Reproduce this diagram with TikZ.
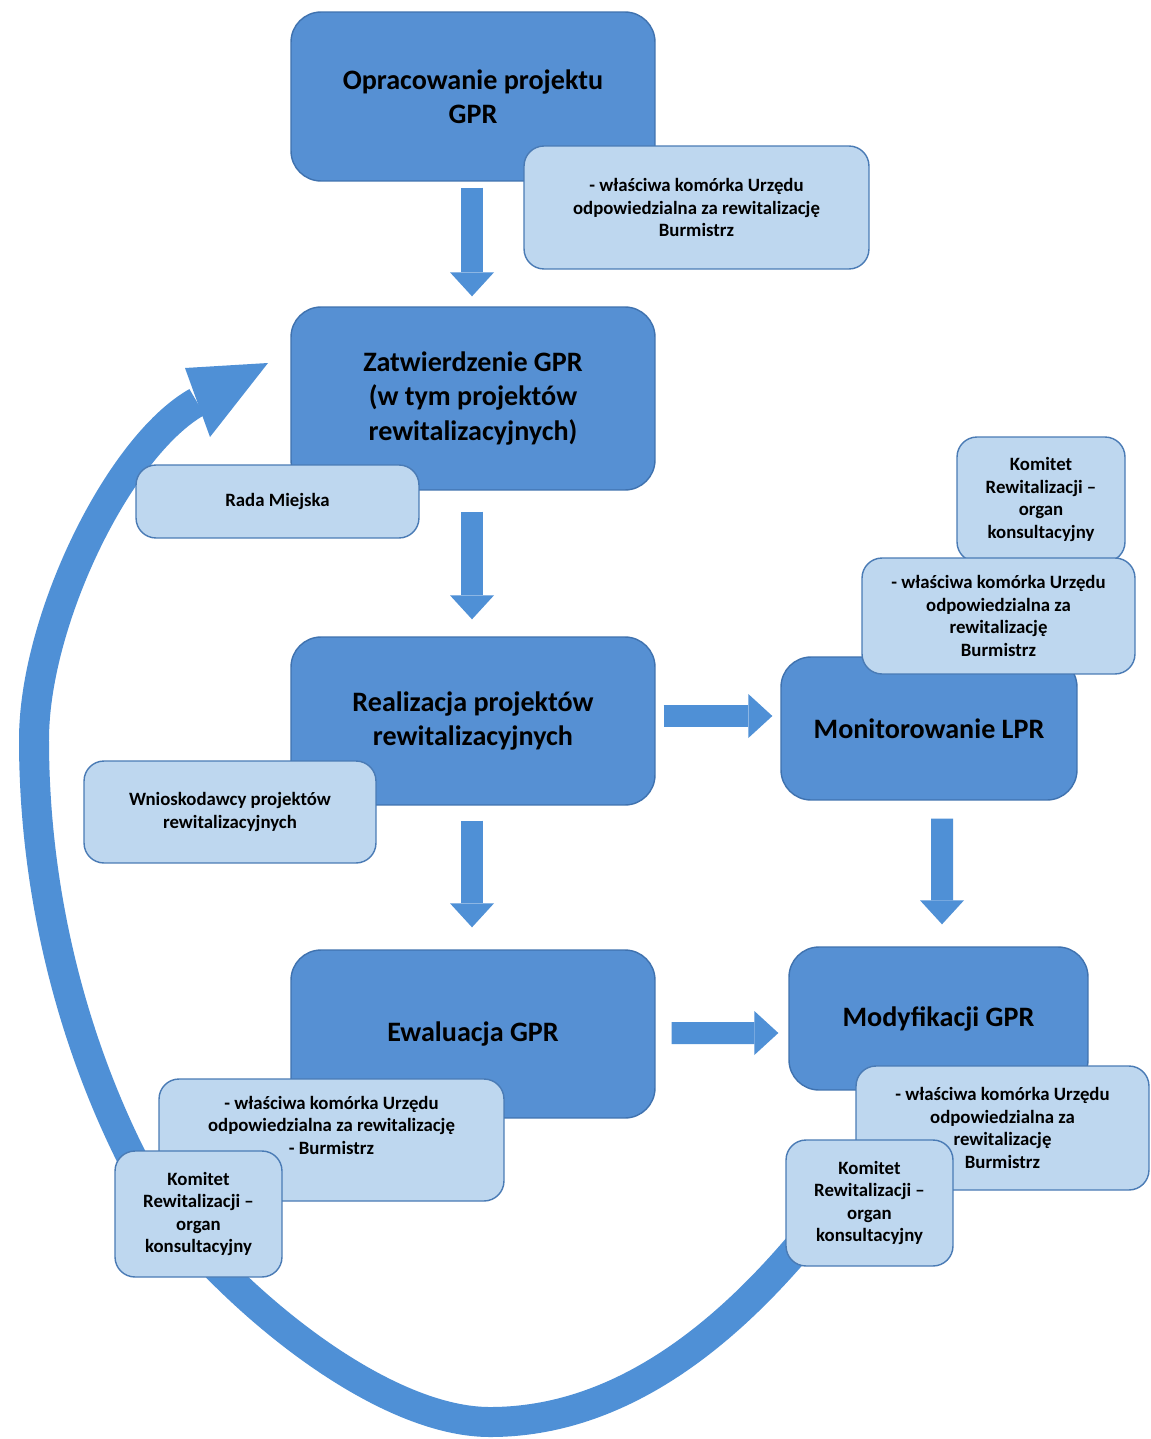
\documentclass[tikz,border=0pt]{standalone}
\usepackage{fontspec}
\setmainfont{Carlito}
\usetikzlibrary{arrows.meta,calc}
\definecolor{dkfill}{HTML}{5690D3}
\definecolor{dkedge}{HTML}{3F72AF}
\definecolor{ltfill}{HTML}{BED7EF}
\definecolor{ltedge}{HTML}{4A7BB5}
\definecolor{arrfill}{HTML}{4F90D6}
\tikzset{
  darkbox/.style={draw=dkedge, fill=dkfill, line width=0.8pt, rounded corners=0.6cm,
    inner sep=0pt, align=center, text=black,
    font=\fontsize{16}{19.5}\selectfont\bfseries},
  lightbox/.style={draw=ltedge, fill=ltfill, line width=0.8pt, rounded corners=0.4cm,
    inner sep=0pt, align=center, text=black,
    font=\fontsize{10.7}{12.8}\selectfont\bfseries},
  blockarr/.style={arrfill, line width=0.44cm,
    -{Triangle[length=0.48cm, width=0.88cm, line width=0pt]}},
  loopband/.style={arrfill, line width=0.6cm},
}
\begin{document}
\begin{tikzpicture}[x=0.02cm, y=-0.02cm]
\useasboundingbox (0,0) rectangle (1150,1439);
\fill[white] (0,0) rectangle (1150,1439);

% big return arrow (behind boxes)
\coordinate (cstart) at (822,1218);
\coordinate (cbottom) at (490,1422);
\coordinate (cmid) at (128,1150);
\coordinate (cleft) at (34,740);
\coordinate (cend) at (197,402);
\coordinate (ctip) at (268,363);
\coordinate (cb1) at (185,368);
\coordinate (cb2) at (210,437);
\draw[loopband] (cstart) .. controls (730,1335) and (620,1422) .. (cbottom)
  .. controls (360,1422) and (176,1249) .. (cmid)
  .. controls (62,1015) and (34,870) .. (cleft)
  .. controls (34,620) and (119,446) .. (cend);
\fill[arrfill] (ctip) -- (cb1) -- (cb2) -- cycle;

% main dark boxes
\node[darkbox, minimum width=7.28cm, minimum height=3.38cm] (op) at (473,96.5) {Opracowanie projektu\\GPR};
\node[darkbox, minimum width=7.28cm, minimum height=3.66cm] (zat) at (473,398.5) {Zatwierdzenie GPR\\(w tym projektów\\rewitalizacyjnych)};
\node[darkbox, minimum width=7.28cm, minimum height=3.36cm] (real) at (473,721) {Realizacja projektów\\rewitalizacyjnych};
\node[darkbox, minimum width=5.92cm, minimum height=2.86cm] (mon) at (929,728.5) {Monitorowanie LPR};
\node[darkbox, minimum width=7.28cm, minimum height=3.36cm] (ewa) at (473,1034) {Ewaluacja GPR};
\node[darkbox, minimum width=5.98cm, minimum height=2.86cm] (mod) at (938.5,1018.5) {Modyfikacji GPR};

% light boxes
\node[lightbox, minimum width=6.9cm, minimum height=2.46cm] (l1) at (696.5,207.5) {- właściwa komórka Urzędu\\odpowiedzialna za rewitalizację\\Burmistrz};
\node[lightbox, minimum width=5.66cm, minimum height=1.46cm] (rada) at (277.5,501.5) {Rada Miejska};
\node[lightbox, minimum width=5.84cm, minimum height=2.04cm] (wn) at (230,812) {Wnioskodawcy projektów\\rewitalizacyjnych};
\node[lightbox, minimum width=3.36cm, minimum height=2.5cm] (komA) at (1041,499.5) {Komitet\\Rewitalizacji –\\organ\\konsultacyjny};
\node[lightbox, minimum width=5.46cm, minimum height=2.32cm] (wlA) at (998.5,616) {- właściwa komórka Urzędu\\odpowiedzialna za\\rewitalizację\\Burmistrz};
\node[lightbox, minimum width=6.9cm, minimum height=2.44cm] (wlB) at (331.5,1140) {- właściwa komórka Urzędu\\odpowiedzialna za rewitalizację\\- Burmistrz\\\strut};
\node[lightbox, minimum width=3.34cm, minimum height=2.52cm] (komB) at (198.5,1214) {Komitet\\Rewitalizacji –\\organ\\konsultacyjny};
\node[lightbox, minimum width=5.86cm, minimum height=2.48cm] (wlC) at (1002.5,1128) {- właściwa komórka Urzędu\\odpowiedzialna za\\rewitalizację\\Burmistrz};
\node[lightbox, minimum width=3.34cm, minimum height=2.52cm] (komC) at (869.5,1203) {Komitet\\Rewitalizacji –\\organ\\konsultacyjny};

% block arrows
\draw[blockarr] ($(op.south)+(-1,6)$) -- ($(zat.north)+(-1,-10)$);
\draw[blockarr] ($(zat.south)+(-1,21)$) -- ($(real.north)+(-1,-17)$);
\draw[blockarr] ($(real.south)+(-1,15)$) -- ($(ewa.north)+(-1,-22)$);
\draw[blockarr] ($(real.east)+(8,-5)$) -- ($(mon.west)+(-8,-12.5)$);
\draw[blockarr] ($(mon.south)+(13,18)$) -- ($(mod.north)+(3.5,-22)$);
\draw[blockarr] ($(ewa.east)+(16,-1)$) -- ($(mod.west)+(-10,14.5)$);
\end{tikzpicture}
\end{document}
